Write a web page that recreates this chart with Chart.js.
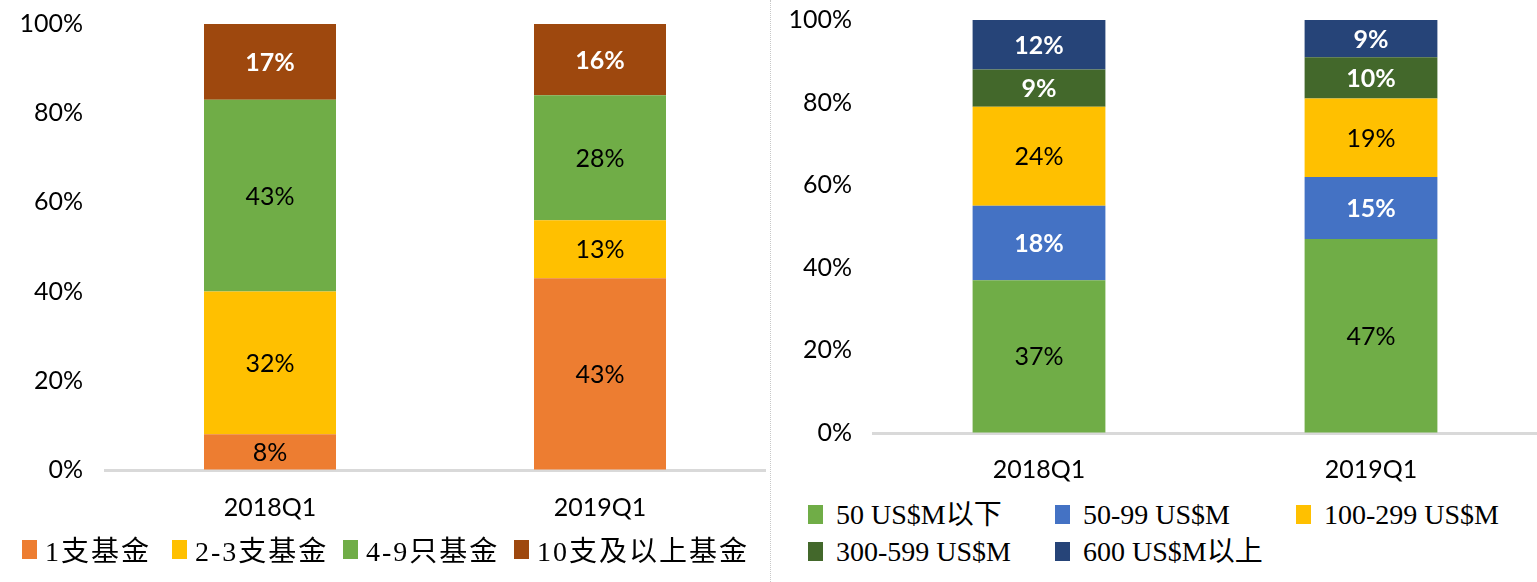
<!DOCTYPE html>
<html>
<head>
<meta charset="utf-8">
<script src="https://cdn.jsdelivr.net/npm/chart.js@4.4.1/dist/chart.umd.min.js"></script>
<style>
    body { margin: 0; width: 1537px; height: 582px; background: #fff; overflow: hidden; position: relative; }
    .panel { position: absolute; top: 0; height: 582px; }
    #left { left: 0; width: 770px; }
    #right { left: 770px; width: 766px; border-left: 1px dotted #c8c8c8; }
    .plot { position: absolute; left: 0; top: 0; width: 100%; }
    #left .plot { height: 530px; }
    #right .plot { height: 495px; }
    .legend { position: absolute; font-family: "Liberation Serif", "Noto Sans CJK SC", serif; font-size: 28px; color: #000; }
    .legend .item { display: flex; align-items: center; white-space: nowrap; }
    .legend .box { width: 15px; height: 19px; margin-right: 8px; flex: none; }
    #legend-left { left: 22px; top: 529px; display: grid; grid-template-columns: 150px 171px 171px 240px; letter-spacing: 2px; }
    #legend-right { left: 37px; top: 497px; display: grid; grid-template-columns: 247px 241px 240px; line-height: 35px; row-gap: 2px; }
    #legend-right .box { margin-right: 13px; }
</style>
</head>
<body>
<div class="panel" id="left">
    <div class="plot"><canvas id="chartLeft"></canvas></div>
    <div class="legend" id="legend-left"></div>
</div>
<div class="panel" id="right">
    <div class="plot"><canvas id="chartRight"></canvas></div>
    <div class="legend" id="legend-right"></div>
</div>
<script>
// categories
const quarters = ['2018Q1', '2019Q1'];

// left chart: number of funds per manager (%)
const fundCountNames = ['1支基金', '2-3支基金', '4-9只基金', '10支及以上基金'];
const oneFund = [8, 43];
const twoToThree = [32, 13];
const fourToNine = [43, 28];
const tenPlus = [17, 16];
const fundCountColors = ['#ED7D31', '#FFC000', '#70AD47', '#9E480E'];
const fundCountLabelColors = ['#000', '#000', '#000', '#fff'];

// right chart: fund size (%)
const sizeNames = ['50 US$M以下', '50-99 US$M', '100-299 US$M', '300-599 US$M', '600 US$M以上'];
const under50 = [37, 47];
const from50to99 = [18, 15];
const from100to299 = [24, 19];
const from300to599 = [9, 10];
const over600 = [12, 9];
const sizeColors = ['#70AD47', '#4472C4', '#FFC000', '#43682B', '#264478'];
const sizeLabelColors = ['#000', '#fff', '#000', '#fff', '#fff'];

const yTicks = [0, 20, 40, 60, 80, 100];

const FONT = 'Lato, "Liberation Sans", sans-serif';

// draws the % value in the middle of every bar segment
const segmentLabels = {
    id: 'segmentLabels',
    afterDatasetsDraw(chart) {
        const ctx = chart.ctx;
        ctx.save();
        ctx.textAlign = 'center';
        ctx.textBaseline = 'middle';
        chart.data.datasets.forEach((ds, i) => {
            const meta = chart.getDatasetMeta(i);
            const white = ds.labelColor === '#fff';
            ctx.fillStyle = ds.labelColor;
            ctx.font = (white ? 'bold ' : '') + '25px ' + FONT;
            meta.data.forEach((bar, j) => {
                const v = ds.data[j];
                if (!v) return;
                ctx.fillText(v + '%', bar.x, (bar.y + bar.base) / 2 + 1);
            });
        });
        ctx.restore();
    }
};

function buildChart(canvasId, legendId, seriesList, names, colors, labelColors, geo) {
    const datasets = seriesList.map((data, i) => ({
        label: names[i],
        data: data,
        backgroundColor: colors[i],
        labelColor: labelColors[i],
        borderWidth: 0,
        categoryPercentage: 1.0,
        barPercentage: 0.4
    }));

    new Chart(document.getElementById(canvasId), {
        type: 'bar',
        data: { labels: quarters, datasets: datasets },
        options: {
            responsive: true,
            maintainAspectRatio: false,
            animation: false,
            layout: { padding: { top: geo.top, right: geo.right, left: 0, bottom: 0 } },
            plugins: { legend: { display: false }, tooltip: { enabled: false } },
            scales: {
                x: {
                    stacked: true,
                    grid: { display: false, drawTicks: false },
                    border: { display: true, color: '#d9d9d9', width: 3 },
                    ticks: { color: '#000', font: { family: FONT, size: 25 }, padding: geo.xPad },
                    afterFit: (scale) => { scale.height = geo.xHeight; }
                },
                y: {
                    stacked: true,
                    min: 0,
                    max: 100,
                    afterBuildTicks: (scale) => { scale.ticks = yTicks.map(v => ({ value: v })); },
                    // invisible tick marks give the gap between labels and plot
                    grid: { display: true, drawOnChartArea: false, drawTicks: true, tickLength: geo.yPad, color: 'rgba(0,0,0,0)' },
                    border: { display: false },
                    ticks: {
                        color: '#000',
                        font: { family: FONT, size: 25 },
                        padding: 0,
                        callback: (v) => v + '%'
                    },
                    afterFit: (scale) => { scale.width = geo.axisWidth; }
                }
            }
        },
        plugins: [segmentLabels]
    });

    const legend = document.getElementById(legendId);
    names.forEach((name, i) => {
        const item = document.createElement('div');
        item.className = 'item';
        item.innerHTML = `<span class="box" style="background:${colors[i]}"></span><span>${name}</span>`;
        legend.appendChild(item);
    });
}

buildChart('chartLeft', 'legend-left',
    [oneFund, twoToThree, fourToNine, tenPlus],
    fundCountNames, fundCountColors, fundCountLabelColors,
    { top: 24, right: 5, axisWidth: 105, yPad: 22, xHeight: 60, xPad: 23 });

buildChart('chartRight', 'legend-right',
    [under50, from50to99, from100to299, from300to599, over600],
    sizeNames, sizeColors, sizeLabelColors,
    { top: 20, right: 0, axisWidth: 102, yPad: 21, xHeight: 62, xPad: 22 });
</script>
</body>
</html>
